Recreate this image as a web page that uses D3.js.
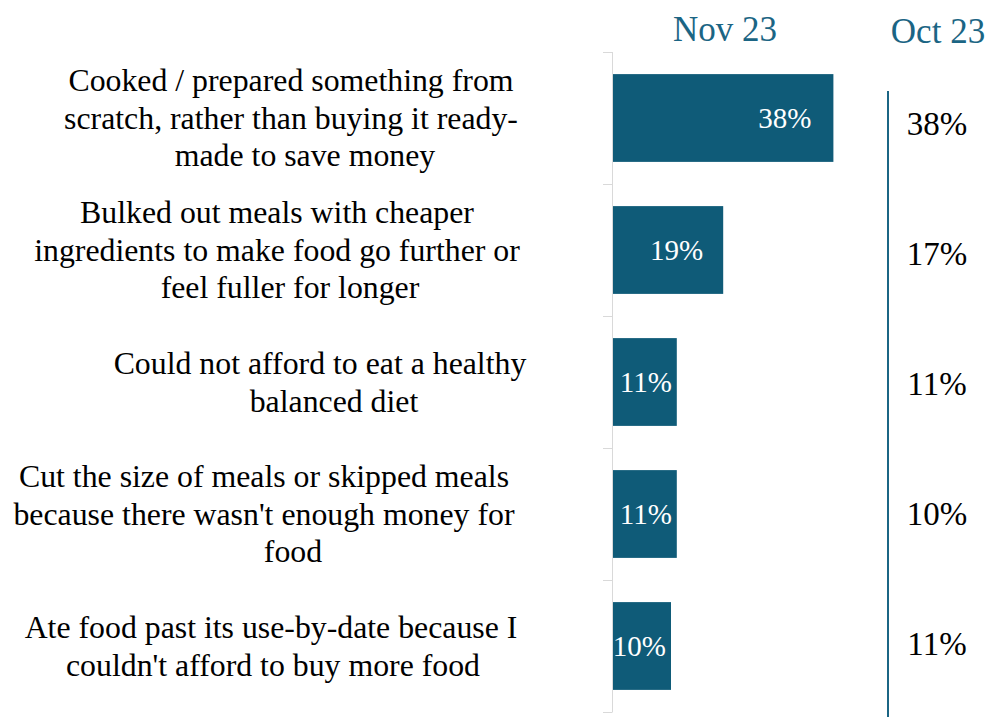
<!DOCTYPE html>
<html>
<head>
<meta charset="utf-8">
<script src="https://cdn.jsdelivr.net/npm/d3@7"></script>
<style>
  html, body { margin: 0; padding: 0; background: #ffffff; }
  svg { display: block; font-family: "Liberation Serif", "Times New Roman", serif; }
</style>
</head>
<body>
<div id="chart"></div>
<script>
// data
var categories = [
  ["Cooked / prepared something from", "scratch, rather than buying it ready-", "made to save money"],
  ["Bulked out meals with cheaper", "ingredients to make food go further or", "feel fuller for longer"],
  ["Could not afford to eat a healthy", "balanced diet"],
  ["Cut the size of meals or skipped meals", "because there wasn't enough money for", "food"],
  ["Ate food past its use-by-date because I", "couldn't afford to buy more food"]
];
var nov23 = [38, 19, 11, 11, 10];
var oct23 = [38, 17, 11, 10, 11];
var seriesNames = ["Nov 23", "Oct 23"];

// layout (kept apart from the data)
var width = 988, height = 717;
var labelCx = [291, 277, 320, 264, 271];
var lastLineDx = [14, 13, 14, 29, 2];   // last wrapped line sits a bit to the right
var barColor = "#0f5b78", headColor = "#1b6584";

var svg = d3.select("#chart").append("svg")
  .attr("width", width)
  .attr("height", height);

var ids = categories.map(function(d, i) { return i; });

var x = d3.scaleLinear()
  .domain([0, 100])
  .range([613, 613 + 580]);

var y = d3.scaleBand()
  .domain(ids)
  .range([52, 712])
  .paddingInner(0.335)
  .paddingOuter(0.1675);

// right column sits on its own slightly shifted band
var yRight = d3.scaleBand()
  .domain(ids)
  .range([58, 708]);

// left axis: light grey line with ticks at band edges
var edges = ids.map(function(i) { return y(i) - y.step() * y.paddingInner() / 2; });
edges.push(712);
svg.append("line")
  .attr("x1", 612.5).attr("x2", 612.5)
  .attr("y1", 52).attr("y2", 712)
  .attr("stroke", "#d9d9d9").attr("stroke-width", 1);
svg.selectAll(".tick")
  .data(edges)
  .enter()
  .append("line")
  .attr("class", "tick")
  .attr("x1", 603).attr("x2", 612.5)
  .attr("y1", function(d) { return Math.round(d) + 0.5; })
  .attr("y2", function(d) { return Math.round(d) + 0.5; })
  .attr("stroke", "#d9d9d9").attr("stroke-width", 1);

// bars
svg.selectAll(".bar")
  .data(nov23)
  .enter()
  .append("rect")
  .attr("class", "bar")
  .attr("x", x(0))
  .attr("y", function(d, i) { return y(i); })
  .attr("width", function(d) { return x(d) - x(0); })
  .attr("height", y.bandwidth())
  .attr("fill", barColor);

// values inside the bars
svg.selectAll(".barLabel")
  .data(nov23)
  .enter()
  .append("text")
  .attr("class", "barLabel")
  .attr("x", function(d) {
    var w = x(d) - x(0);
    return x(d) - Math.min(22, Math.max(5, (w - 50) / 3));
  })
  .attr("y", function(d, i) { return y(i) + y.bandwidth() / 2; })
  .attr("dy", "0.36em")
  .attr("text-anchor", "end")
  .attr("fill", "#ffffff")
  .attr("font-size", 29)
  .text(function(d) { return d + "%"; });

// category labels
var labels = svg.selectAll(".catLabel")
  .data(categories)
  .enter()
  .append("text")
  .attr("class", "catLabel")
  .attr("text-anchor", "middle")
  .attr("font-size", 31.8)
  .attr("fill", "#000000");
labels.each(function(lines, i) {
  var cy = y(i) + y.bandwidth() / 2;
  var lh = 37.5;
  d3.select(this).selectAll("tspan")
    .data(lines)
    .enter()
    .append("tspan")
    .attr("x", function(d, j) { return labelCx[i] + (j == lines.length - 1 ? lastLineDx[i] : 0); })
    .attr("y", function(d, j) { return cy + (j - (lines.length - 1) / 2) * lh; })
    .attr("dy", "0.34em")
    .text(function(d) { return d; });
});

// column headers
svg.append("text")
  .attr("x", 725).attr("y", 41)
  .attr("text-anchor", "middle")
  .attr("font-size", 35)
  .attr("fill", headColor)
  .text(seriesNames[0]);
svg.append("text")
  .attr("x", 938).attr("y", 43)
  .attr("text-anchor", "middle")
  .attr("font-size", 35)
  .attr("fill", headColor)
  .text(seriesNames[1]);

// divider for the previous wave
svg.append("line")
  .attr("x1", 888).attr("x2", 888)
  .attr("y1", 91).attr("y2", height)
  .attr("stroke", headColor).attr("stroke-width", 2);

// previous wave values
svg.selectAll(".octLabel")
  .data(oct23)
  .enter()
  .append("text")
  .attr("class", "octLabel")
  .attr("x", 937)
  .attr("y", function(d, i) { return yRight(i) + yRight.bandwidth() / 2; })
  .attr("dy", "0.36em")
  .attr("text-anchor", "middle")
  .attr("font-size", 33)
  .attr("fill", "#000000")
  .text(function(d) { return d + "%"; });
</script>
</body>
</html>
